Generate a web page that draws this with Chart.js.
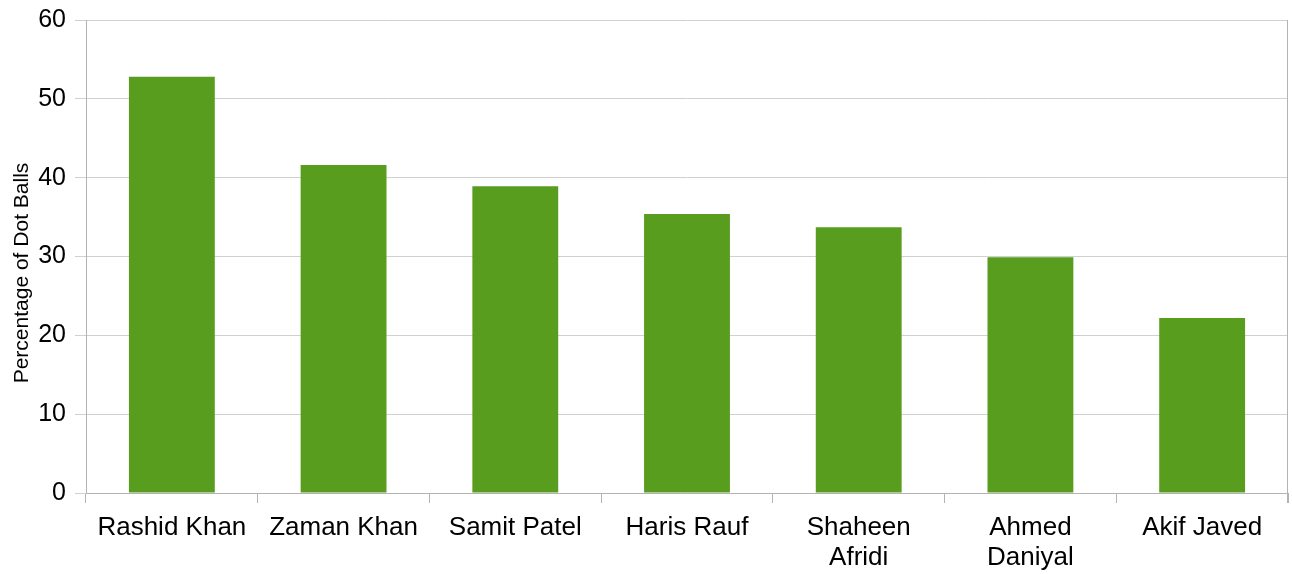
<!DOCTYPE html>
<html>
<head>
<meta charset="utf-8">
<script src="https://cdn.jsdelivr.net/npm/chart.js@4"></script>
<style>
  html, body { margin: 0; padding: 0; background: #fff; }
  #wrap { width: 1292px; height: 574px; }
</style>
</head>
<body>
<div id="wrap"><canvas id="myChart"></canvas></div>
<script>
const players = ["Rashid Khan", "Zaman Khan", "Samit Patel", "Haris Rauf", ["Shaheen", "Afridi"], ["Ahmed", "Daniyal"], "Akif Javed"];
const dotBallPct = [52.8, 41.6, 38.9, 35.4, 33.7, 29.9, 22.2];
const yTicks = [0, 10, 20, 30, 40, 50, 60];
const yTitle = "Percentage of Dot Balls";

const ctx = document.getElementById("myChart");

// right edge of the plot frame + y title (sits a bit below the axis middle in the original)
const extras = {
  id: "extras",
  afterDraw(chart) {
    const a = chart.chartArea;
    const c = chart.ctx;
    c.save();
    c.strokeStyle = "#b3b3b3";
    c.lineWidth = 1;
    c.beginPath();
    c.moveTo(Math.round(a.right) - 0.5, a.top);
    c.lineTo(Math.round(a.right) - 0.5, a.bottom + 10);
    c.stroke();

    c.translate(22, 273);
    c.rotate(-Math.PI / 2);
    c.fillStyle = "#000";
    c.font = "21px 'Liberation Sans'";
    c.textAlign = "center";
    c.textBaseline = "middle";
    c.fillText(yTitle, 0, 0);
    c.restore();
  },
};

new Chart(ctx, {
  type: "bar",
  data: {
    labels: players,
    datasets: [
      {
        label: yTitle,
        data: dotBallPct,
        backgroundColor: "#589d1e",
        barPercentage: 0.5,
        categoryPercentage: 1,
      },
    ],
  },
  options: {
    responsive: true,
    maintainAspectRatio: false,
    animation: false,
    layout: { padding: { top: 20, right: 4, left: 0, bottom: 0 } },
    plugins: {
      legend: { display: false },
      tooltip: { enabled: false },
    },
    scales: {
      x: {
        offset: true,
        grid: {
          offset: true,
          drawOnChartArea: false,
          drawTicks: true,
          tickLength: 10,
          color: "#b3b3b3",
        },
        border: { color: "#b3b3b3" },
        ticks: {
          color: "#000",
          font: { family: "Liberation Sans", size: 26, lineHeight: 1.15 },
          padding: 10,
          maxRotation: 0,
          autoSkip: false,
        },
        afterFit: (scale) => {
          scale.height = 81;
          scale.paddingLeft = 0;
          scale.paddingRight = 0;
        },
      },
      y: {
        min: 0,
        max: 60,
        afterBuildTicks: (scale) => {
          scale.ticks = yTicks.map((v) => ({ value: v }));
        },
        grid: {
          color: "#d0d0d0",
          tickLength: 11,
        },
        border: { color: "#b3b3b3" },
        ticks: {
          color: "#000",
          font: { family: "Liberation Sans", size: 25 },
          padding: 9,
        },
        afterFit: (scale) => {
          scale.width = 86;
          scale.paddingTop = 0;
          scale.paddingBottom = 0;
        },
      },
    },
  },
  plugins: [extras],
});
</script>
</body>
</html>
